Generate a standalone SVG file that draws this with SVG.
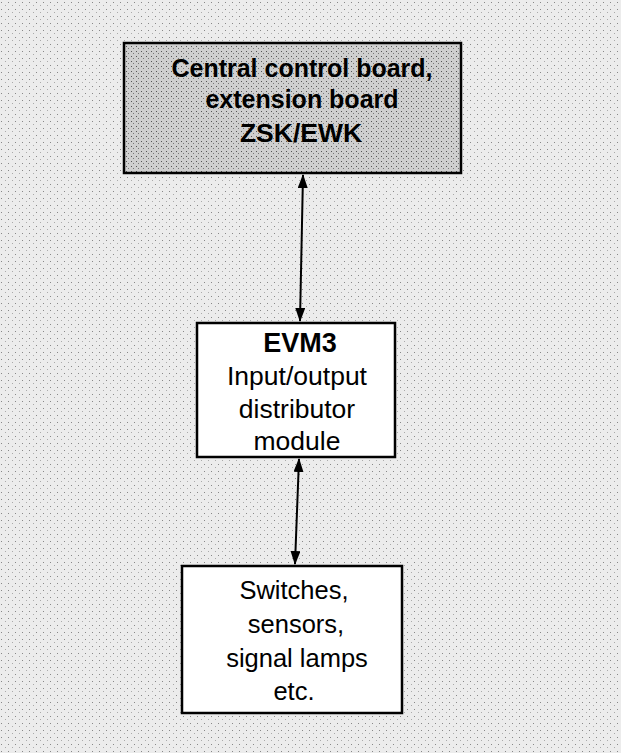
<svg xmlns="http://www.w3.org/2000/svg" width="621" height="753" viewBox="0 0 621 753">
<defs>
<style>
.box{stroke:#000;stroke-width:2.5}
.t{font-family:"Liberation Sans",Arial,sans-serif;fill:#000;text-anchor:middle}
.b{font-weight:bold}
.conn{stroke:#000;stroke-width:2;fill:none}
</style>
<marker id="ah" markerUnits="userSpaceOnUse" markerWidth="14" markerHeight="10" refX="13" refY="5" orient="auto-start-reverse">
<path d="M0,0 L14,5 L0,10 z" fill="#000"/>
</marker>
<pattern id="noise" width="7" height="7" patternUnits="userSpaceOnUse">
<rect width="7" height="7" fill="#ececec"/>
<rect x="1" y="2" width="1" height="1" fill="#888"/>
<rect x="5" y="5" width="1" height="1" fill="#aaa"/>
</pattern>
<pattern id="noise2" width="5" height="5" patternUnits="userSpaceOnUse">
<rect width="5" height="5" fill="#cfcfcf"/>
<rect x="1" y="1" width="1" height="1" fill="#555"/>
<rect x="3" y="3" width="1" height="1" fill="#777"/>
</pattern>
</defs>
<rect width="621" height="753" fill="url(#noise)"/>
<g id="connectors">
<line class="conn" x1="303" y1="175" x2="300" y2="321" marker-start="url(#ah)" marker-end="url(#ah)"/>
<line class="conn" x1="299" y1="459" x2="295" y2="564" marker-start="url(#ah)" marker-end="url(#ah)"/>
</g>
<g id="zsk">
<rect class="box" x="124" y="43" width="337" height="130" fill="url(#noise2)" stroke-width="3"/>
<text class="t b" x="302" y="77" font-size="25">Central control board,</text>
<text class="t b" x="302" y="108" font-size="25">extension board</text>
<text class="t b" x="301" y="142" font-size="26.5">ZSK/EWK</text>
</g>
<g id="evm3">
<rect class="box" x="197" y="323" width="198" height="134" fill="#fff"/>
<text class="t b" x="300" y="352" font-size="27">EVM3</text>
<text class="t" x="297" y="385" font-size="26.5">Input/output</text>
<text class="t" x="297" y="418" font-size="26.5">distributor</text>
<text class="t" x="297" y="450" font-size="26.5">module</text>
</g>
<g id="io">
<rect class="box" x="182" y="566" width="220" height="147" fill="#fff"/>
<text class="t" x="294" y="599" font-size="25.5">Switches,</text>
<text class="t" x="296" y="633" font-size="25.5">sensors,</text>
<text class="t" x="297" y="667" font-size="25.5">signal lamps</text>
<text class="t" x="294" y="700" font-size="25.5">etc.</text>
</g>
</svg>
